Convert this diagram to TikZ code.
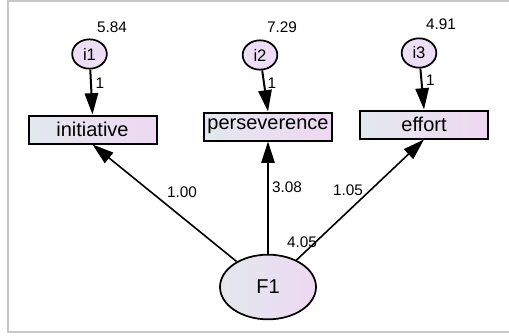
\documentclass[tikz,border=0pt]{standalone}
\usepackage{fontspec}
\setmainfont{Liberation Sans}
\usetikzlibrary{shapes.geometric,arrows.meta}
\definecolor{boxL}{RGB}{226,232,238}
\definecolor{boxR}{RGB}{238,216,242}
\definecolor{errfill}{RGB}{238,222,245}
\definecolor{frame}{RGB}{200,200,200}

\begin{document}
\begin{tikzpicture}[x=0.75pt,y=-0.75pt,
	obs/.style={draw,line width=1.5pt,minimum width=96pt,minimum height=21pt,inner sep=0pt,
		left color=boxL,right color=boxR,font=\fontsize{15}{18}\selectfont},
	err/.style={draw,ellipse,line width=1.3pt,minimum width=26pt,minimum height=22pt,inner sep=0pt,
		fill=errfill,font=\fontsize{12.5}{14}\selectfont},
	lat/.style={draw,ellipse,line width=1.3pt,minimum width=72pt,minimum height=48.5pt,inner sep=0pt,
		left color=boxL,right color=boxR,font=\fontsize{15}{17}\selectfont},
	val/.style={inner sep=0pt,font=\fontsize{11.5}{13}\selectfont},
	coef/.style={line width=1.2pt,-{Triangle[length=16pt,width=10pt]}}]
	\useasboundingbox (0,0) rectangle (509,335);
	\draw[frame,line width=1.5pt] (509,1.5) -- (7.5,1.5) -- (7.5,332) -- (509,332);
	% observed variables
	\node[obs] (initiative) at (92.5,129.5) {initiative};
	\node[obs] (perseverence) at (268,126.5) {perseverence};
	\node[obs] (effort) at (424,124.5) {effort};
	% error terms
	\node[err] (i1) at (89.5,54) {i1};
	\node[err] (i2) at (260,55) {i2};
	\node[err] (i3) at (419,53) {i3};
	\node[val] (v1) at (112,27) {5.84};
	\node[val] (v2) at (282,27.5) {7.29};
	\node[val] (v3) at (441,24) {4.91};
	% factor
	\node[lat] (F1) at (268,287) {F1};
	\node[val] (vF) at (302,242) {4.05};
	% paths
	\draw[coef,line width=1.5pt] (i1) -- (initiative.north);
	\draw[coef,line width=1.5pt] (i2) -- (perseverence.north);
	\draw[coef,line width=1.5pt] (i3) -- (effort.north);
	\node[val] (w1) at (100,83) {1};
	\node[val] (w2) at (272,83) {1};
	\node[val] (w3) at (430.5,80) {1};
	\draw[coef] (F1) -- (initiative.south);
	\draw[coef] (F1) -- (perseverence.south);
	\draw[coef] (F1) -- (effort.south);
	\node[val] (l1) at (182,192) {1.00};
	\node[val] (l2) at (287,187) {3.08};
	\node[val] (l3) at (348,190) {1.05};
\end{tikzpicture}
\end{document}
